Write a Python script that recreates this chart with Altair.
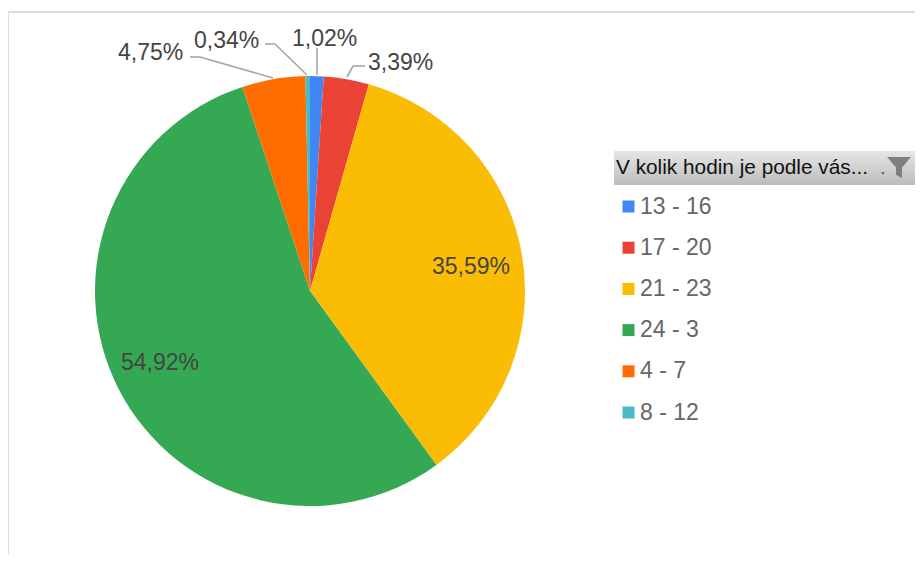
import altair as alt
import pandas as pd

categories = ["13 - 16", "17 - 20", "21 - 23", "24 - 3", "4 - 7", "8 - 12"]
shares = [1.02, 3.39, 35.59, 54.92, 4.75, 0.34]
labels = ["1,02%", "3,39%", "35,59%", "54,92%", "4,75%", "0,34%"]
colors = ["#4285F4", "#EA4335", "#FBBC04", "#34A853", "#FF6D01", "#46BDC6"]

df = pd.DataFrame({"cat": categories, "share": shares, "label": labels, "idx": range(len(shares))})
OX, OY = 8, 8  # page margin


def X(v):
    return alt.value(v - OX)


def Y(v):
    return alt.value(v - OY)


one = pd.DataFrame({"t": ["V kolik hodin je podle vás..."]})

pie = alt.Chart(df).mark_arc(outerRadius=215, innerRadius=0).encode(
    theta=alt.Theta("share:Q", stack=True),
    order=alt.Order("idx:Q"),
    color=alt.Color(
        "cat:N",
        scale=alt.Scale(domain=categories, range=colors),
        legend=alt.Legend(
            title=None, orient="none", legendX=617 - OX, legendY=195 - OY,
            symbolType="square", symbolSize=144, symbolStrokeWidth=0,
            labelFont="Liberation Sans", labelFontSize=23, labelColor="#666666",
            labelOffset=0, rowPadding=17.2, labelLimit=200,
        ),
    ),
    x=X(310), y=Y(291),
)

layers = [pie]

# leader lines
leaders = [
    [(190, 57), (200, 57), (273, 78)],
    [(265, 44), (275, 44), (307, 75)],
    [(317, 48), (317, 75)],
    [(365, 66), (353, 66), (347, 77)],
]
for pts in leaders:
    for (x1, y1), (x2, y2) in zip(pts, pts[1:]):
        layers.append(
            alt.Chart(one).mark_rule(color="#a6a6a6", strokeWidth=1.6).encode(
                x=X(x1), x2=X(x2), y=Y(y1), y2=Y(y2)
            )
        )

# data labels
label_at = {
    "1,02%": (292, 39), "3,39%": (368, 63), "35,59%": (432, 267),
    "54,92%": (121, 363), "4,75%": (118, 53), "0,34%": (194, 41),
}
for lab, (lx, ly) in label_at.items():
    layers.append(
        alt.Chart(df).transform_filter(alt.datum.label == lab).mark_text(
            font="Liberation Sans", fontSize=23, color="#444444",
            align="left", baseline="middle",
        ).encode(text="label:N", x=X(lx), y=Y(ly))
    )

# frame
layers.append(alt.Chart(one).mark_rule(color="#dcdcdc", strokeWidth=2).encode(x=X(8), x2=X(923), y=Y(12)))
layers.append(alt.Chart(one).mark_rule(color="#dcdcdc", strokeWidth=2).encode(x=X(8), y=Y(12), y2=Y(563)))

# legend header
layers.append(
    alt.Chart(one).mark_rect(
        color=alt.LinearGradient(
            gradient="linear", x1=0, y1=0, x2=0, y2=1,
            stops=[alt.GradientStop(offset=0, color="#e6e6e6"), alt.GradientStop(offset=1, color="#bcbcbc")],
        )
    ).encode(x=X(614), x2=X(919), y=Y(151), y2=Y(185))
)
layers.append(
    alt.Chart(one).mark_text(
        font="Liberation Sans", fontSize=20.8, color="#111111", align="left", baseline="middle"
    ).encode(text="t:N", x=X(616), y=Y(168))
)
layers.append(
    alt.Chart(one).mark_point(
        shape="M-1,-0.875 L1,-0.875 L0.25,0 L0.25,0.875 L-0.25,0.6 L-0.25,0 Z",
        filled=True, size=576, color="#7f7f7f", opacity=1,
    ).encode(x=X(899), y=Y(167.5))
)
layers.append(
    alt.Chart(one).mark_point(
        shape="triangle-down", filled=True, size=12, color="#666666", opacity=1
    ).encode(x=X(883), y=Y(173.5))
)

chart = alt.layer(*layers).properties(
    width=907, height=547, padding=0,
    autosize=alt.AutoSizeParams(type="none"),
    background="white",
).configure_view(stroke=None)

chart.save("out.html", embed_options={"renderer": "svg", "actions": False})
